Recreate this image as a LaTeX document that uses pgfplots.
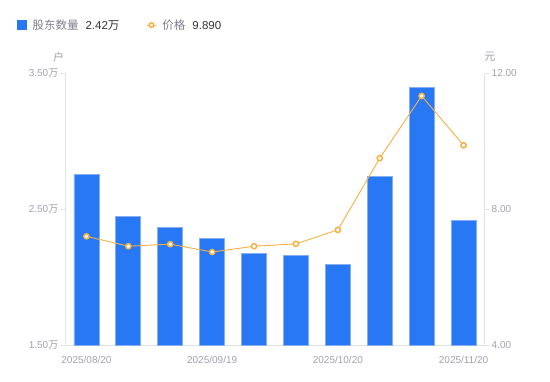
\documentclass[border=0pt]{standalone}
\usepackage{pgfplots}
\pgfplotsset{compat=1.18}
\usepackage{fontspec}
\setmainfont{Liberation Sans}
\newfontfamily\cjk{Noto Sans CJK SC}
\definecolor{barblue}{HTML}{2878F5}
\definecolor{baredge}{HTML}{86AEF5}
\definecolor{lineorange}{HTML}{F7B140}
\definecolor{tickgray}{HTML}{A0A0AE}
\definecolor{axisgray}{HTML}{E2E2E8}
\definecolor{legendgray}{HTML}{7E7E8C}
\definecolor{darktext}{HTML}{333338}
\begin{document}
\begin{tikzpicture}
\path[use as bounding box] (0,0) rectangle (550pt,381pt);
\pgfplotsset{
  common/.style={
    at={(65.5pt,35.5pt)}, anchor=south west,
    scale only axis, width=419pt, height=272pt,
    xmin=-0.5, xmax=9.5,
    tick align=outside,
    major tick length=5pt,
    every tick/.style={axisgray, line width=0.8pt},
    axis line style={axisgray, line width=0.8pt, -},
    ticklabel style={font=\fontsize{10}{12}\selectfont, text=tickgray},
  }
}
\begin{axis}[common,
  axis x line*=bottom, axis y line*=left,
  x axis line style={-}, y axis line style={-},
  ymin=1.5, ymax=3.5,
  ytick={1.5,2.5,3.5},
  yticklabels={1.50{\cjk 万},2.50{\cjk 万},3.50{\cjk 万}},
  yticklabel style={inner sep=2pt},
  xtick={0,3,6,9},
  xticklabels={2025/08/20,2025/09/19,2025/10/20,2025/11/20},
  xtick style={draw=none},
  xticklabel style={yshift=-2pt},
  ylabel={\cjk 户},
  ylabel style={rotate=-90, at={(axis description cs:-0.0162,1.0607)}, anchor=center, font=\fontsize{11}{13}\selectfont, text=tickgray},
]
\addplot[ybar, bar width=25pt, fill=barblue, draw=baredge, line width=0.8pt]
coordinates {(0,2.758) (1,2.451) (2,2.366) (3,2.288) (4,2.178) (5,2.165) (6,2.097) (7,2.746) (8,3.399) (9,2.420)};
\end{axis}
\begin{axis}[common,
  axis x line=none, axis y line*=right,
  y axis line style={-},
  ymin=4, ymax=12,
  ytick={4,8,12},
  yticklabels={4.00,8.00,12.00},
  yticklabel style={inner sep=2pt},
  ylabel={\cjk 元},
  ylabel style={rotate=-90, at={(axis description cs:1.013,1.0607)}, anchor=center, font=\fontsize{11}{13}\selectfont, text=tickgray},
  legend style={draw=none, fill=none, at={(axis description cs:-0.1158,1.178)}, anchor=west,
    inner sep=0pt, nodes={inner sep=0pt, anchor=west}, font=\fontsize{11.5}{14}\selectfont},
  legend columns=2,
  legend cell align=left,
  /tikz/every even column/.append style={column sep=27pt},
]
\addlegendimage{legend image code/.code={\fill[barblue] (0pt,-4.5pt) rectangle (9pt,4.5pt); \path (15pt,0pt);}}
\addlegendentry{{\color{legendgray}\cjk 股东数量}\hspace{7pt}{\color{darktext}2.42{\cjk 万}}}
\addplot[lineorange, line width=0.9pt, mark=*, mark size=2.6pt,
  mark options={fill=white, draw=lineorange, line width=1.5pt},
  legend image code/.code={\draw[lineorange, line width=1pt] (0pt,0pt) -- (9pt,0pt); \draw[lineorange, line width=1.5pt, fill=white] (4.5pt,0pt) circle (2.3pt); \path (15pt,0pt);}]
coordinates {(0,7.21) (1,6.92) (2,6.98) (3,6.75) (4,6.92) (5,6.99) (6,7.40) (7,9.51) (8,11.34) (9,9.89)};
\addlegendentry{{\color{legendgray}\cjk 价格}\hspace{7pt}{\color{darktext}9.890}}
\end{axis}
\end{tikzpicture}
\end{document}
